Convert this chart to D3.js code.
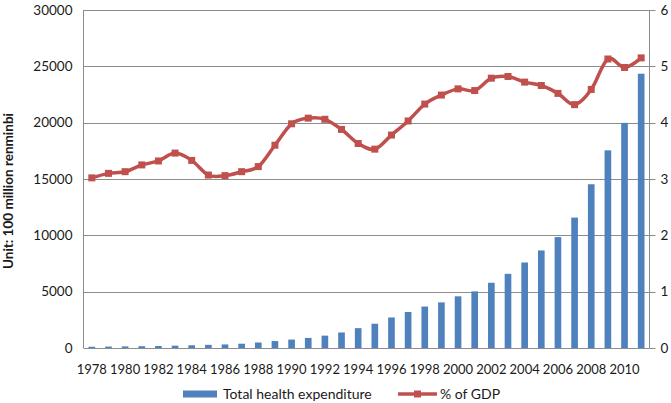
<!DOCTYPE html>
<html>
<head>
<meta charset="utf-8">
<script src="https://cdn.jsdelivr.net/npm/d3@7"></script>
<style>
  html, body { margin: 0; padding: 0; background: #fff; }
  svg { display: block; }
  text { font-family: Lato, "Open Sans", sans-serif; fill: #1a1a1a; }
</style>
</head>
<body>
<svg id="chart" width="671" height="403"></svg>
<script>
const years = [1978,1979,1980,1981,1982,1983,1984,1985,1986,1987,1988,1989,1990,1991,1992,1993,1994,1995,1996,1997,1998,1999,2000,2001,2002,2003,2004,2005,2006,2007,2008,2009,2010,2011];
const expenditure = [110,126,143,160,178,207,242,279,316,380,488,616,747,893,1097,1378,1761,2155,2709,3197,3679,4048,4587,5026,5790,6584,7590,8660,9843,11574,14535,17542,19980,24346];
const pctGDP = [3.02,3.10,3.13,3.25,3.32,3.46,3.33,3.07,3.06,3.13,3.22,3.60,3.98,4.08,4.06,3.88,3.63,3.53,3.78,4.03,4.33,4.49,4.60,4.57,4.79,4.82,4.72,4.66,4.52,4.32,4.59,5.13,4.98,5.15];
const leftTicks = [0,5000,10000,15000,20000,25000,30000];
const rightTicks = [0,1,2,3,4,5,6];
const xLabels = years.filter(y => y % 2 === 0);
const seriesNames = ["Total health expenditure", "% of GDP"];
const yTitle = "Unit: 100 million renminbi";

const svg = d3.select("#chart");
const L = 83.5, R = 649.5, T = 10, B = 348;
const gridColor = "#8c8c8c";
const barColor = "#4F81BD";
const lineColor = "#C0504D";

const x = d3.scaleBand().domain(years).range([L, R]).paddingInner(0).paddingOuter(0);
const yL = d3.scaleLinear().domain([0, 30000]).range([B, T]);
const yR = d3.scaleLinear().domain([0, 6]).range([B, T]);

// gridlines
svg.append("g").selectAll("line").data(leftTicks.slice(1)).join("line")
  .attr("x1", L).attr("x2", R)
  .attr("y1", d => Math.round(yL(d)) + 0.5).attr("y2", d => Math.round(yL(d)) + 0.5)
  .attr("stroke", gridColor).attr("stroke-width", 1);

// bars
const bw = x.bandwidth() * 0.4;
svg.append("g").selectAll("rect").data(years).join("rect")
  .attr("x", (d) => x(d) + (x.bandwidth() - bw) / 2)
  .attr("width", bw)
  .attr("y", (d, i) => yL(expenditure[i]))
  .attr("height", (d, i) => B - yL(expenditure[i]))
  .attr("fill", barColor);

// axes lines
svg.append("line").attr("x1", L).attr("x2", L).attr("y1", T).attr("y2", B).attr("stroke", gridColor);
svg.append("line").attr("x1", R).attr("x2", R).attr("y1", T).attr("y2", B).attr("stroke", gridColor);
svg.append("line").attr("x1", L).attr("x2", R).attr("y1", B + 0.5).attr("y2", B + 0.5).attr("stroke", gridColor);

// right axis ticks
svg.append("g").selectAll("line").data(rightTicks).join("line")
  .attr("x1", R).attr("x2", R + 6)
  .attr("y1", d => Math.round(yR(d)) + 0.5).attr("y2", d => Math.round(yR(d)) + 0.5)
  .attr("stroke", gridColor);

// left tick labels
svg.append("g").selectAll("text").data(leftTicks).join("text")
  .attr("x", L - 11).attr("y", d => yL(d)).attr("dy", "0.35em")
  .attr("text-anchor", "end").attr("font-size", 13.5).text(d => d);

// right tick labels
svg.append("g").selectAll("text").data(rightTicks).join("text")
  .attr("x", R + 11).attr("y", d => yR(d)).attr("dy", "0.35em")
  .attr("text-anchor", "start").attr("font-size", 13.5).text(d => d);

// x labels
svg.append("g").selectAll("text").data(xLabels).join("text")
  .attr("x", d => x(d) + x.bandwidth() / 2).attr("y", 369).attr("dy", "0.35em")
  .attr("text-anchor", "middle").attr("font-size", 13).text(d => d);

// y title
svg.append("text").attr("transform", `translate(13,191) rotate(-90)`)
  .attr("text-anchor", "middle").attr("font-size", 13.5).attr("font-weight", "bold").text(yTitle);

// line
const line = d3.line()
  .x((d, i) => x(years[i]) + x.bandwidth() / 2)
  .y(d => yR(d))
  .curve(d3.curveCatmullRom.alpha(0));
svg.append("path").datum(pctGDP).attr("d", line)
  .attr("fill", "none").attr("stroke", lineColor).attr("stroke-width", 3.5).attr("stroke-linejoin", "round");
const ms = 7;
svg.append("g").selectAll("rect").data(pctGDP).join("rect")
  .attr("x", (d, i) => x(years[i]) + x.bandwidth() / 2 - ms / 2)
  .attr("y", d => yR(d) - ms / 2)
  .attr("width", ms).attr("height", ms).attr("fill", lineColor);

// legend
const ly = 394;
svg.append("rect").attr("x", 183).attr("y", ly - 3.5).attr("width", 34).attr("height", 7).attr("fill", barColor);
svg.append("text").attr("x", 223).attr("y", ly).attr("dy", "0.35em").attr("font-size", 14).text(seriesNames[0]);
svg.append("line").attr("x1", 398).attr("x2", 437).attr("y1", ly).attr("y2", ly)
  .attr("stroke", lineColor).attr("stroke-width", 3.5);
svg.append("rect").attr("x", 417.5 - ms / 2).attr("y", ly - ms / 2).attr("width", ms).attr("height", ms).attr("fill", lineColor);
svg.append("text").attr("x", 440).attr("y", ly).attr("dy", "0.35em").attr("font-size", 14).text(seriesNames[1]);
</script>
</body>
</html>
